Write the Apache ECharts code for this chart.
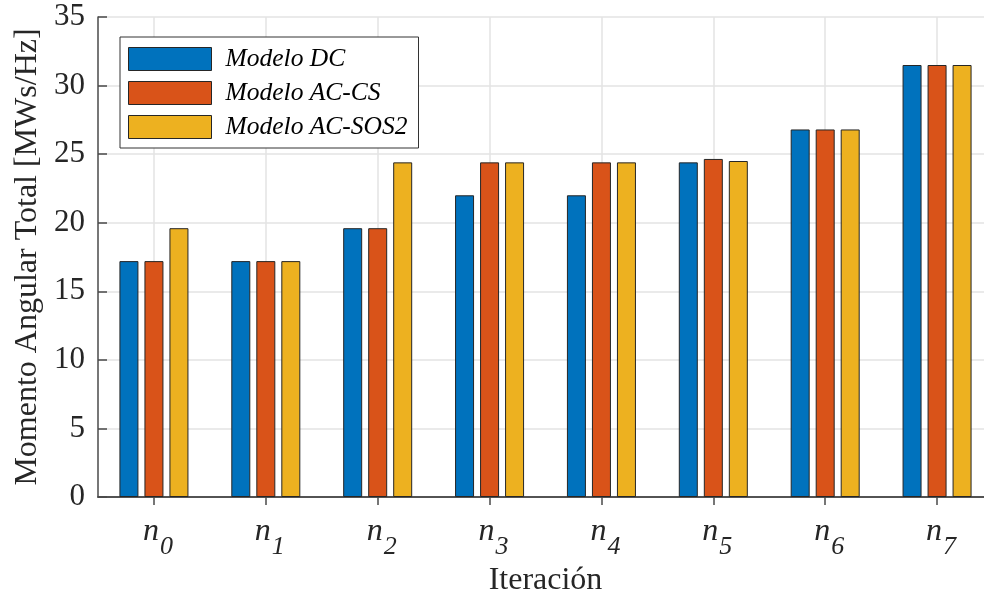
<!DOCTYPE html>
<html>
<head>
<meta charset="utf-8">
<script src="https://cdn.jsdelivr.net/npm/echarts@6/dist/echarts.min.js"></script>
<style>
  html, body { margin: 0; padding: 0; background: #fff; overflow: hidden; }
  #chart { width: 984px; height: 596px; }
</style>
</head>
<body>
<div id="chart"></div>
<script>
// Iterations n0..n7 (subscript index shown on the axis)
const iterations = ['0', '1', '2', '3', '4', '5', '6', '7'];

// Total angular momentum [MWs/Hz] per model
const modeloDC     = [17.2, 17.2, 19.6, 22.0, 22.0, 24.4, 26.8, 31.5];
const modeloACCS   = [17.2, 17.2, 19.6, 24.4, 24.4, 24.65, 26.8, 31.5];
const modeloACSOS2 = [19.6, 17.2, 24.4, 24.4, 24.4, 24.5, 26.8, 31.5];

const seriesNames = ['Modelo DC', 'Modelo AC-CS', 'Modelo AC-SOS2'];
const seriesData = [modeloDC, modeloACCS, modeloACSOS2];
const colors = ['#0072BD', '#D95319', '#EDB120'];

const yTicks = { min: 0, max: 35, interval: 5 };

const serif = '"Liberation Serif", "Times New Roman", serif';
const axisColor = '#4a4a4a';
const gridColor = '#e3e3e3';
const textColor = '#262626';

const chart = echarts.init(document.getElementById('chart'), null, { renderer: 'canvas' });

const option = {
  animation: false,
  backgroundColor: '#fff',
  color: colors,
  // the plot box runs slightly past the right edge of the canvas
  grid: { left: 98, top: 17, width: 895, height: 480, containLabel: false, outerBoundsMode: 'none' },
  legend: {
    orient: 'vertical',
    left: 120,
    top: 37,
    padding: [9, 11, 8, 8],
    itemGap: 8,
    itemWidth: 83,
    itemHeight: 23,
    backgroundColor: '#fff',
    borderColor: '#333',
    borderWidth: 1,
    borderRadius: 0,
    icon: 'rect',
    itemStyle: { borderColor: '#262626', borderWidth: 1 },
    textStyle: {
      fontFamily: serif,
      fontStyle: 'italic',
      fontSize: 25.5,
      color: '#000',
      padding: [0, 0, 0, 9]
    },
    data: seriesNames
  },
  xAxis: [
    {
      type: 'category',
      position: 'bottom',
      data: iterations,
      name: 'Iteración',
      nameLocation: 'middle',
      nameGap: 66,
      nameTextStyle: { fontFamily: serif, fontSize: 32, color: textColor },
      axisLine: { show: true, lineStyle: { color: axisColor, width: 1.5 } },
      axisTick: { show: true, inside: true, length: 9, alignWithLabel: true,
                  lineStyle: { color: axisColor, width: 1.5 } },
      splitLine: { show: true, alignWithLabel: true, lineStyle: { color: gridColor, width: 1.5 } },
      axisLabel: {
        margin: 19,
        formatter: function (v) { return '{n|n}{s|' + v + '}'; },
        rich: {
          n: { fontFamily: serif, fontStyle: 'italic', fontSize: 32, lineHeight: 32,
               color: textColor, verticalAlign: 'top', padding: [0, 0, 0, 8] },
          s: { fontFamily: serif, fontStyle: 'italic', fontSize: 26, lineHeight: 26,
               color: textColor, verticalAlign: 'top', padding: [18, 0, 0, 1] }
        }
      }
    },
    {
      type: 'category',
      position: 'top',
      data: iterations,
      axisLine: { show: true, lineStyle: { color: axisColor, width: 1.5 } },
      axisTick: { show: true, inside: true, length: 8, alignWithLabel: true,
                  lineStyle: { color: axisColor, width: 1.5 } },
      axisLabel: { show: false },
      splitLine: { show: false }
    }
  ],
  yAxis: [
    {
      type: 'value',
      position: 'left',
      min: yTicks.min,
      max: yTicks.max,
      interval: yTicks.interval,
      name: 'Momento Angular Total [MWs/Hz]',
      nameLocation: 'middle',
      nameGap: 52,
      nameTextStyle: { fontFamily: serif, fontSize: 32, color: textColor },
      axisLine: { show: true, lineStyle: { color: axisColor, width: 1.5 } },
      axisTick: { show: true, inside: true, length: 9, lineStyle: { color: axisColor, width: 1.5 } },
      splitLine: { show: true, lineStyle: { color: gridColor, width: 1.5 } },
      axisLabel: { margin: 13, fontFamily: serif, fontSize: 31, color: textColor }
    },
    {
      type: 'value',
      position: 'right',
      min: yTicks.min,
      max: yTicks.max,
      interval: yTicks.interval,
      axisLine: { show: true, lineStyle: { color: axisColor, width: 1.5 } },
      axisTick: { show: true, inside: true, length: 9, lineStyle: { color: axisColor, width: 1.5 } },
      splitLine: { show: false },
      axisLabel: { show: false }
    }
  ],
  series: seriesNames.map(function (name, i) {
    return {
      name: name,
      type: 'bar',
      xAxisIndex: 0,
      yAxisIndex: 0,
      data: seriesData[i],
      barWidth: 19,
      barGap: '31.6%',
      itemStyle: { color: colors[i], borderColor: '#262626', borderWidth: 1 }
    };
  })
};

chart.setOption(option);
</script>
</body>
</html>
